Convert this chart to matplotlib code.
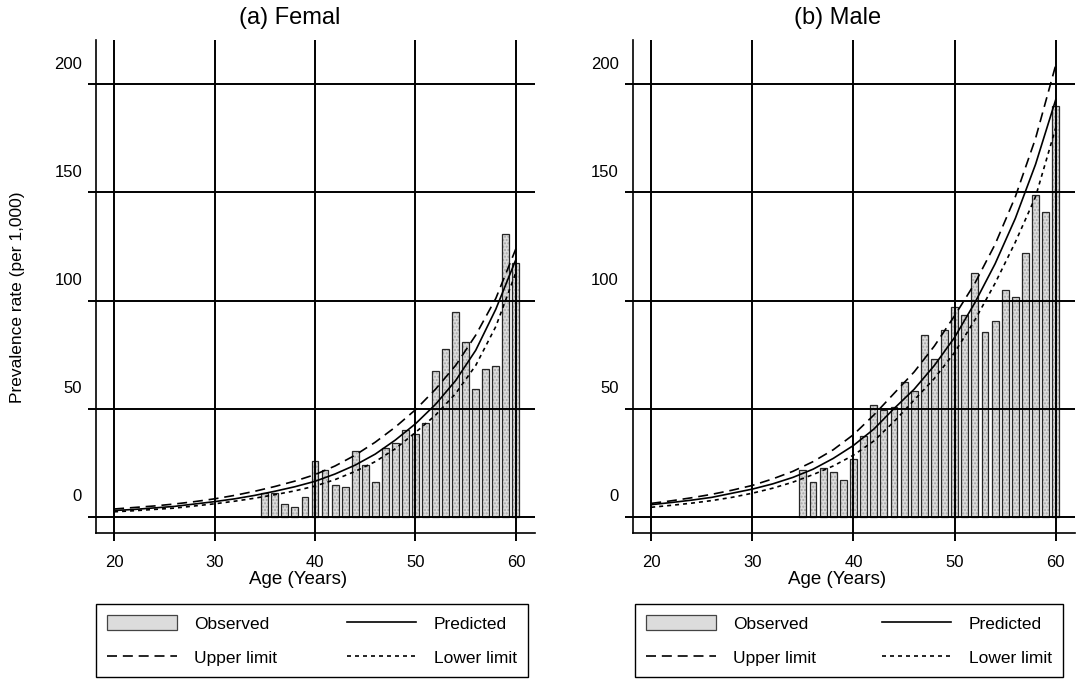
import matplotlib
matplotlib.use("Agg")
import matplotlib.pyplot as plt
from matplotlib.transforms import ScaledTranslation, blended_transform_factory
from matplotlib.lines import Line2D
from matplotlib.patches import Patch

plt.rcParams['font.family'] = ['Liberation Sans', 'DejaVu Sans']

# observed prevalence per 1,000 by single year of age
bar_ages = list(range(35, 61))
female_obs = [11.2, 11.0, 6.0, 4.5, 9.0, 26.0, 21.8, 14.8, 13.6, 30.2, 24.0, 15.9, 31.8,
              34.0, 40.0, 38.3, 43.4, 67.6, 77.8, 94.8, 80.7, 59.0, 68.5, 69.9, 131.0, 117.4]
male_obs = [21.8, 15.9, 22.5, 20.7, 17.1, 26.7, 37.5, 51.5, 49.5, 50.6, 62.2, 58.0, 84.3,
            73.0, 86.6, 97.0, 93.4, 112.8, 85.5, 90.4, 104.8, 101.7, 121.8, 149.0, 141.0, 190.0]

# fitted curves every 2 years
curve_ages = list(range(20, 61, 2))
female_pred = [2.9, 3.4, 4.1, 4.8, 5.9, 7.0, 8.3, 9.9, 11.8, 13.9, 16.4,
               19.8, 23.9, 29.0, 35.5, 43.0, 52.0, 63.0, 77.0, 96.0, 119.0]
female_upper = [3.6, 4.3, 5.0, 5.9, 7.0, 8.3, 9.9, 11.8, 14.0, 16.5, 19.5,
                23.5, 28.5, 34.5, 41.5, 49.5, 59.0, 70.0, 84.0, 101.0, 124.0]
female_lower = [2.3, 2.8, 3.4, 4.0, 5.0, 6.0, 7.2, 8.6, 10.2, 12.0, 14.2,
                17.2, 21.0, 25.5, 31.5, 39.0, 47.0, 57.0, 70.0, 88.0, 113.0]
male_pred = [5.6, 6.6, 7.7, 9.0, 10.9, 12.8, 15.2, 18.2, 22.0, 27.0, 33.0,
             40.5, 50.0, 59.0, 70.0, 83.0, 99.0, 117.0, 138.0, 163.0, 193.0]
male_upper = [6.2, 7.4, 8.8, 10.4, 12.3, 14.5, 17.5, 21.0, 25.5, 31.0, 38.0,
              47.0, 57.0, 67.0, 79.0, 93.0, 108.0, 126.0, 148.0, 175.0, 209.0]
male_lower = [4.4, 5.3, 6.3, 7.5, 9.0, 10.9, 13.2, 16.0, 19.5, 23.5, 28.5,
              35.0, 44.0, 54.0, 64.0, 76.0, 91.0, 108.0, 127.0, 148.0, 180.0]

x_ticks = [20, 30, 40, 50, 60]
y_ticks = [0, 50, 100, 150, 200]

W, H = 1077, 679
fig = plt.figure(figsize=(W / 100, H / 100), dpi=100)

bar_color = '#dcdcdc'
upper_dash = (0, (6, 3.5))
lower_dash = (0, (2.4, 2.4))


def draw_panel(ax, obs, pred, upper, lower, title, title_x, xlab_x, ylab_right):
    # stippled fill, then the dark outline on top
    ax.bar(bar_ages, obs, width=0.68, color=bar_color, edgecolor='#a8a8a8', linewidth=0,
           hatch='.....', zorder=1)
    ax.bar(bar_ages, obs, width=0.68, color='none', edgecolor='#262626', linewidth=0.9, zorder=1.5)
    ax.plot(curve_ages, pred, color='black', lw=1.2, zorder=3)
    ax.plot(curve_ages, upper, color='black', lw=1.2, linestyle=upper_dash, zorder=3)
    ax.plot(curve_ages, lower, color='black', lw=1.2, linestyle=lower_dash, zorder=3)

    ax.set_xlim(18.2, 61.9)
    ax.set_ylim(-7.5, 220.5)
    ax.set_xticks(x_ticks)
    ax.set_yticks(y_ticks)
    ax.grid(True, color='black', linewidth=1.4, zorder=2)
    ax.set_axisbelow(False)
    for s in ['top', 'right']:
        ax.spines[s].set_visible(False)
    for s in ['left', 'bottom']:
        ax.spines[s].set_linewidth(1.2)
    ax.tick_params(axis='both', direction='out', length=6, width=1.4, labelsize=12)
    ax.tick_params(axis='x', pad=10)
    ax.tick_params(axis='y', labelleft=False)

    # y labels in the original sit above their grid lines
    tr = blended_transform_factory(fig.transFigure, ax.transData) + \
        ScaledTranslation(0, 0.20, fig.dpi_scale_trans)
    for v in y_ticks:
        ax.text(ylab_right / W, v, str(v), transform=tr, ha='right', va='center', fontsize=12)

    fig.text(title_x / W, 1 - 18 / H, title, ha='center', va='center', fontsize=17)
    fig.text(xlab_x / W, 1 - 579 / H, 'Age (Years)', ha='center', va='center', fontsize=13.5)


ax_f = fig.add_axes([96 / W, 1 - 533 / H, 439 / W, 493 / H])
ax_m = fig.add_axes([633 / W, 1 - 533 / H, 442 / W, 493 / H])

draw_panel(ax_f, female_obs, female_pred, female_upper, female_lower, '(a) Femal', 290, 298, 82)
draw_panel(ax_m, male_obs, male_pred, male_upper, male_lower, '(b) Male', 838, 837, 619)

fig.text(18 / W, 1 - 297 / H, 'Prevalence rate (per 1,000)', rotation=90,
         ha='center', va='center', fontsize=12.5)

handles = [
    Patch(facecolor=bar_color, edgecolor='#444444', linewidth=0.9),
    Line2D([], [], color='black', lw=1.2, linestyle=upper_dash),
    Line2D([], [], color='black', lw=1.2),
    Line2D([], [], color='black', lw=1.2, linestyle=lower_dash),
]
labels = ['Observed', 'Upper limit', 'Predicted', 'Lower limit']

for x0, x1 in [(96, 528), (635, 1063)]:
    leg = fig.legend(handles, labels, ncol=2, loc='lower left',
                     bbox_to_anchor=(x0 / W, 2 / H, (x1 - x0) / W, 72 / H),
                     mode='expand', borderaxespad=0, fontsize=12.5, handlelength=4.0,
                     handleheight=1.0, handletextpad=1.0, labelspacing=1.0, borderpad=0.65,
                     fancybox=False, framealpha=1, edgecolor='black')
    leg.get_frame().set_linewidth(1.0)

fig.savefig('out.png', dpi=100)
